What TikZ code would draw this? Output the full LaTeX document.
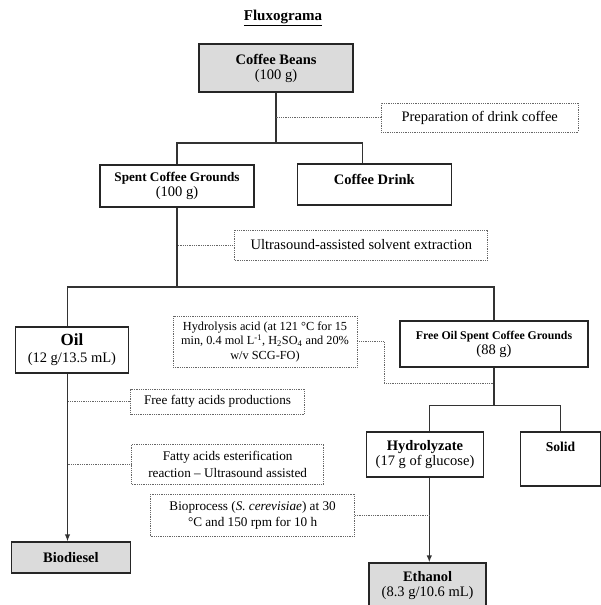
\documentclass[tikz,border=0pt]{standalone}
\usepackage{fontspec}
\setmainfont{Liberation Serif}
\usetikzlibrary{arrows.meta,calc}
\begin{document}
\begin{tikzpicture}[x=1pt,y=-1pt,
  box/.style={draw=black!85, line width=1.3pt, align=center, inner sep=0pt, font=\fontsize{14.5}{15}\selectfont},
  gbox/.style={box, fill=black!14},
  dbox/.style={draw=black!60, densely dotted, line width=0.8pt, align=center, inner sep=0pt, font=\fontsize{13.2}{16}\selectfont},
  conn/.style={draw=black!80, line width=1.3pt},
  dconn/.style={draw=black!60, densely dotted, line width=0.8pt},
  tip/.style={-{Latex[length=7pt,width=5.5pt]}},
]
\useasboundingbox (0,0) rectangle (601,605);

\node[font=\bfseries\fontsize{15}{16}\selectfont] (title) at (283,18) {\underline{Fluxograma}};

\node[gbox, minimum width=154pt, minimum height=48pt] (beans) at (276,68) {\textbf{Coffee Beans}\\(100 g)};
\node[dbox, minimum width=197pt, minimum height=29pt, font=\fontsize{14.5}{15}\selectfont] (prep) at (479.7,117.5) {Preparation of drink coffee};

\node[box, minimum width=154pt, minimum height=42pt] (spent) at (177,186) {{\bfseries\fontsize{13.2}{14}\selectfont Spent Coffee Grounds}\\(100 g)};
\node[box, minimum width=154pt, minimum height=41pt] (drink) at (374.3,184.5) {\textbf{Coffee Drink}\\[-9pt]\strut};

\node[dbox, minimum width=253pt, minimum height=30pt, font=\fontsize{14.5}{15}\selectfont] (ultra) at (361.3,245) {Ultrasound-assisted solvent extraction};

\node[box, minimum width=113pt, minimum height=46pt, font=\fontsize{14.5}{17}\selectfont] (oil) at (71.9,350) {{\bfseries\fontsize{17}{17}\selectfont Oil}\\(12 g/13.5 mL)};
\node[dbox, minimum width=184pt, minimum height=51pt, font=\fontsize{12.3}{14.5}\selectfont] (hydro) at (265,341.5) {Hydrolysis acid (at 121 °C for 15\\min, 0.4 mol L\textsuperscript{-1}, H\textsubscript{2}SO\textsubscript{4} and 20\%\\w/v SCG-FO)};
\node[box, minimum width=188pt, minimum height=46pt] (freeoil) at (494,344) {{\bfseries\fontsize{11.8}{13}\selectfont Free Oil Spent Coffee Grounds}\\(88 g)};

\node[dbox, minimum width=174pt, minimum height=25pt] (ffa) at (217.5,401.5) {Free fatty acids productions};
\node[dbox, minimum width=192pt, minimum height=40pt, font=\fontsize{13.2}{17}\selectfont] (ester) at (227.7,464) {Fatty acids esterification\\reaction -- Ultrasound assisted};

\node[box, minimum width=117pt, minimum height=45pt] (hyd) at (425,454.5) {\textbf{Hydrolyzate}\\(17 g of glucose)};
\node[box, minimum width=80pt, minimum height=54pt] (solid) at (560.5,459) {{\bfseries\fontsize{13.6}{15}\selectfont Solid}\\[4pt]\strut};

\node[dbox, minimum width=204pt, minimum height=42pt] (bio) at (252.6,515) {Bioprocess (\textit{S. cerevisiae}) at 30\\°C and 150 rpm for 10 h};

\node[gbox, minimum width=119pt, minimum height=31pt] (biod) at (70.9,557.5) {\textbf{Biodiesel}};
\node[gbox, minimum width=117pt, minimum height=46pt] (eth) at (427.6,586) {\textbf{Ethanol}\\(8.3 g/10.6 mL)};

% connectors
\coordinate (s1) at (276,143);
\coordinate (s2) at (177,287);
\coordinate (oilx) at (67.5,0);
\coordinate (hx) at (429.3,0);
\path (drink.north) ++(-11.7,0) coordinate (drinkin);
\path (freeoil.south) ++(0,38) coordinate (s3);
\coordinate (hk) at (384,383);

\draw[conn] (beans.south) -- (s1);
\draw[conn] (spent.north) |- (s1) -| (drinkin);
\draw[dconn] (prep.west) -- (prep.west -| s1);

\draw[conn] (spent.south) -- (s2);
\draw[dconn] (ultra.west) -- (ultra.west -| s2);
\draw[conn] (oilx |- oil.north) |- (s2) -| (freeoil.north);

\draw[conn, tip] (oilx |- oil.south) -- (oilx |- biod.north);
\draw[dconn] (ffa.west) -- (ffa.west -| oilx);
\draw[dconn] (ester.west) -- (ester.west -| oilx);

\draw[conn] (freeoil.south) -- (s3);
\draw[conn] (hx |- hyd.north) |- (s3) -| (solid.north);
\draw[dconn] (hydro.east) -| (hk) -- (hk -| s3);

\draw[conn, tip] (hx |- hyd.south) -- (hx |- eth.north);
\draw[dconn] (bio.east) -- (bio.east -| hx);
\end{tikzpicture}
\end{document}
